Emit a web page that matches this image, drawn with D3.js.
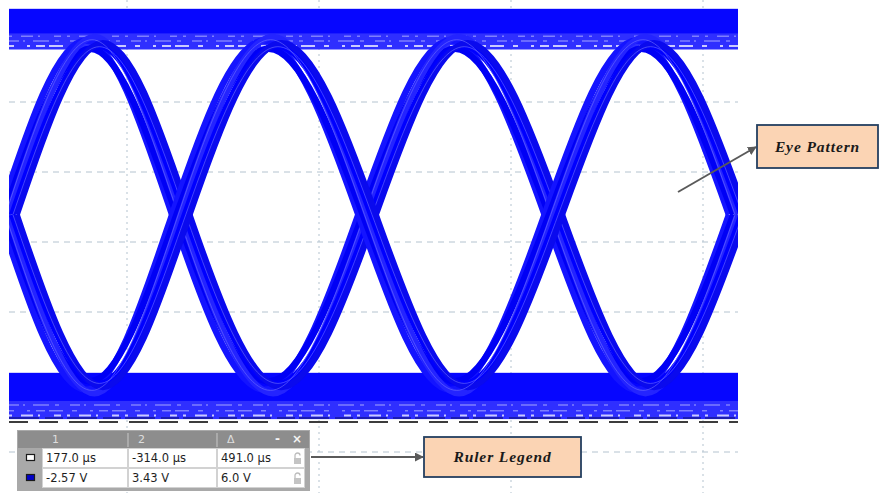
<!DOCTYPE html>
<html><head><meta charset="utf-8">
<script src="https://cdn.jsdelivr.net/npm/d3@7"></script>
<style>html,body{margin:0;padding:0;background:#fff;}svg{display:block;}</style>
</head><body>
<script>
// ---------------- data ----------------
// time axis in µs (one grid division = 100 µs), voltage in V (one division = 1 V)
const gridTimesUs = [0, 100, 200, 300];
const gridVolts = [-3, -2, -1, 0, 1, 2, 3];
const crossingsUs = [-62, 28, 125, 222, 318];     // eye crossing instants
const extremaUs = [-17, 76, 173, 270];             // peak / trough instants
const crossVolt = 0.39;
const highVolt = 2.84;
const lowVolt = -2.07;
const traceShiftUs = [-4.5, -2.2, 0, 2.2, 4.5];    // jitter of overlaid traces
const traceAmpV = [0.04, -0.08, 0.09, -0.04, 0];   // amplitude spread of traces
const topBandV = [3.33, 2.75];
const topDenseV = [3.33, 2.98];
const bottomBandV = [-1.87, -2.53];
const bottomDenseV = [-1.87, -2.27];
const topSpeckleV = [2.94, 2.87, 2.8];
const bottomSpeckleV = [-2.33, -2.41, -2.48];
const rulerVolt = -2.57;
const legendHeader = ["1", "2", "\u0394"];
const legendTime = ["177.0 \u00b5s", "-314.0 \u00b5s", "491.0 \u00b5s"];
const legendVolt = ["-2.57 V", "3.43 V", "6.0 V"];
const calloutEye = "Eye Pattern";
const calloutRuler = "Ruler Legend";

// ---------------- drawing ----------------
const W = 880, H = 493;
const svg = d3.select("body").append("svg").attr("width", W).attr("height", H);

const x = d3.scaleLinear().domain([0, 100]).range([127, 319]);
const y = d3.scaleLinear().domain([0, 1]).range([242, 172]);
const plotL = 9, plotR = 738;

const defs = svg.append("defs");
defs.append("clipPath").attr("id", "plotclip")
  .append("rect").attr("x", plotL).attr("y", 0).attr("width", plotR - plotL).attr("height", H);

// grid
const grid = svg.append("g");
grid.selectAll("line.h").data(gridVolts).join("line")
  .attr("x1", plotL).attr("x2", plotR)
  .attr("y1", d => y(d)).attr("y2", d => y(d))
  .attr("stroke", "#b4c3cf").attr("stroke-width", 1).attr("stroke-dasharray", "6,5");
grid.selectAll("line.v").data(gridTimesUs).join("line")
  .attr("x1", d => x(d)).attr("x2", d => x(d))
  .attr("y1", 0).attr("y2", H)
  .attr("stroke", "#b4c3cf").attr("stroke-width", 1).attr("stroke-dasharray", "2,4");

const plot = svg.append("g").attr("clip-path", "url(#plotclip)");

// bands: lighter outer part, dense core
function band(v, fill) {
  plot.append("rect").attr("x", plotL).attr("width", plotR - plotL)
    .attr("y", y(v[0])).attr("height", y(v[1]) - y(v[0])).attr("fill", fill);
}
band(topBandV, "#2f2fff"); band(bottomBandV, "#2f2fff");
band(topDenseV, "#0606ff"); band(bottomDenseV, "#0606ff");
const speckles = topSpeckleV.concat(bottomSpeckleV);
const dashes = ["3,9,12,5,2,14,7,6", "10,4,2,8,16,6,4,11", "5,13,3,6,9,4,14,9"];
plot.selectAll("line.sp").data(speckles).join("line")
  .attr("x1", plotL).attr("x2", plotR)
  .attr("y1", d => y(d)).attr("y2", d => y(d))
  .attr("stroke", (d, i) => i % 3 === 2 ? "#ffffff" : "#9a9aff")
  .attr("stroke-width", (d, i) => i % 3 === 2 ? 2 : 1.5)
  .attr("stroke-opacity", 0.75)
  .attr("stroke-dasharray", (d, i) => dashes[(i + (i > 2 ? 1 : 0)) % 3]);

// eye traces
const line = d3.line().x(d => x(d[0])).y(d => y(d[1])).curve(d3.curveNatural);
function wave(startUp, shift, amp) {
  const pts = [];
  crossingsUs.forEach((c, i) => {
    pts.push([c + shift, crossVolt]);
    if (i < extremaUs.length) {
      const up = (i % 2 === 0) === startUp;
      pts.push([extremaUs[i] + shift, up ? highVolt + amp : lowVolt - amp]);
    }
  });
  return pts;
}
const traceColors = ["#1414ff", "#0000f5", "#2424ff", "#0000ff", "#0a0aee"];
[true, false].forEach(up => {
  traceShiftUs.forEach((s, i) => {
    plot.append("path").attr("d", line(wave(up, s, traceAmpV[i])))
      .attr("fill", "none").attr("stroke", traceColors[i]).attr("stroke-width", 6.5);
  });
  [-1.3, 2.6].forEach((s, i) => {
    plot.append("path").attr("d", line(wave(up, s, i ? -0.05 : 0.05)))
      .attr("fill", "none").attr("stroke", "#6e6eff").attr("stroke-width", 1).attr("stroke-opacity", 0.6);
  });
});

// band lower edge line
plot.append("line").attr("x1", plotL).attr("x2", plotR)
  .attr("y1", y(bottomBandV[1]) - 1).attr("y2", y(bottomBandV[1]) - 1)
  .attr("stroke", "#1c1cb0").attr("stroke-width", 2).attr("stroke-dasharray", "30,6,18,4");

// ruler cursor line
svg.append("line").attr("x1", plotL).attr("x2", plotR)
  .attr("y1", y(rulerVolt)).attr("y2", y(rulerVolt))
  .attr("stroke", "#3c3c3c").attr("stroke-width", 2).attr("stroke-dasharray", "19,11");

// ---------------- ruler legend table ----------------
const lg = svg.append("g").attr("transform", "translate(17,430)");
lg.append("rect").attr("x", 0).attr("y", 0).attr("width", 293).attr("height", 61).attr("fill", "#a9a9a9");
lg.append("rect").attr("x", 1).attr("y", 1).attr("width", 291).attr("height", 17).attr("fill", "#8d8d8d");
const colX = [25, 111, 200, 288];
[18, 38].forEach((ry, r) => {
  for (let c = 0; c < 3; c++) {
    lg.append("rect").attr("x", colX[c] + 0.5).attr("y", ry + 0.5)
      .attr("width", colX[c + 1] - colX[c] - 1).attr("height", 19)
      .attr("fill", "#ffffff").attr("stroke", "#d2d2d2");
  }
});
[111, 200].forEach(sx => lg.append("line").attr("x1", sx).attr("x2", sx).attr("y1", 3).attr("y2", 17)
  .attr("stroke", "#c8c8c8").attr("stroke-width", 1));
lg.selectAll("text.hd").data(legendHeader).join("text")
  .attr("x", (d, i) => colX[i] + 10).attr("y", 13)
  .attr("font-family", "DejaVu Sans, sans-serif").attr("font-size", 11)
  .attr("fill", "#dedede").text(d => d);
lg.append("text").attr("x", 258).attr("y", 13).attr("font-family", "DejaVu Sans, sans-serif")
  .attr("font-size", 12).attr("font-weight", "bold").attr("fill", "#f4f4f4").text("-");
lg.append("text").attr("x", 275).attr("y", 13).attr("font-family", "DejaVu Sans, sans-serif")
  .attr("font-size", 12).attr("font-weight", "bold").attr("fill", "#f4f4f4").text("\u00d7");
[legendTime, legendVolt].forEach((row, r) => {
  lg.selectAll("text.r" + r).data(row).join("text")
    .attr("x", (d, i) => colX[i] + 4).attr("y", 32 + r * 20)
    .attr("font-family", "DejaVu Sans, sans-serif").attr("font-size", 11.5)
    .attr("fill", "#1e1e1e").text(d => d);
  const lk = lg.append("g").attr("transform", `translate(276,${23 + r * 20})`);
  lk.append("path").attr("d", "M2,5 V2.5 A2.5,2.5 0 0 1 7,2.5").attr("fill", "none")
    .attr("stroke", "#bdbdbd").attr("stroke-width", 1.3);
  lk.append("rect").attr("x", 1).attr("y", 5).attr("width", 7).attr("height", 6).attr("fill", "#c4c4c4");
});
lg.append("rect").attr("x", 9.5).attr("y", 24.5).attr("width", 8).attr("height", 6)
  .attr("fill", "#ffffff").attr("stroke", "#1a1a1a").attr("stroke-width", 1.2);
lg.append("rect").attr("x", 9.5).attr("y", 44.5).attr("width", 8).attr("height", 6)
  .attr("fill", "#0000c8").attr("stroke", "#1a1a1a").attr("stroke-width", 1.2);

// ---------------- callouts ----------------
defs.append("marker").attr("id", "arr").attr("viewBox", "0 0 10 10").attr("refX", 9).attr("refY", 5)
  .attr("markerWidth", 4.5).attr("markerHeight", 4.5).attr("orient", "auto")
  .append("path").attr("d", "M0,0 L10,5 L0,10 z").attr("fill", "#5a5a5a");

svg.append("line").attr("x1", 311).attr("y1", 457).attr("x2", 423).attr("y2", 457)
  .attr("stroke", "#5a5a5a").attr("stroke-width", 2).attr("marker-end", "url(#arr)");
svg.append("line").attr("x1", 678).attr("y1", 192).attr("x2", 756).attr("y2", 147)
  .attr("stroke", "#5a5a5a").attr("stroke-width", 2).attr("marker-end", "url(#arr)");

function callout(bx, by, bw, bh, label) {
  svg.append("rect").attr("x", bx).attr("y", by).attr("width", bw).attr("height", bh)
    .attr("fill", "#fbd4b4").attr("stroke", "#243f60").attr("stroke-width", 1.8);
  svg.append("text").attr("x", bx + bw / 2).attr("y", by + bh / 2 + 5)
    .attr("text-anchor", "middle").attr("font-family", "Liberation Serif, Times New Roman, serif")
    .attr("font-style", "italic").attr("font-weight", "bold").attr("font-size", 15.5)
    .attr("letter-spacing", 0.9)
    .attr("fill", "#1a1a1a").text(label);
}
callout(757, 125, 121, 43, calloutEye);
callout(424, 437, 157, 40, calloutRuler);
</script>
</body></html>
